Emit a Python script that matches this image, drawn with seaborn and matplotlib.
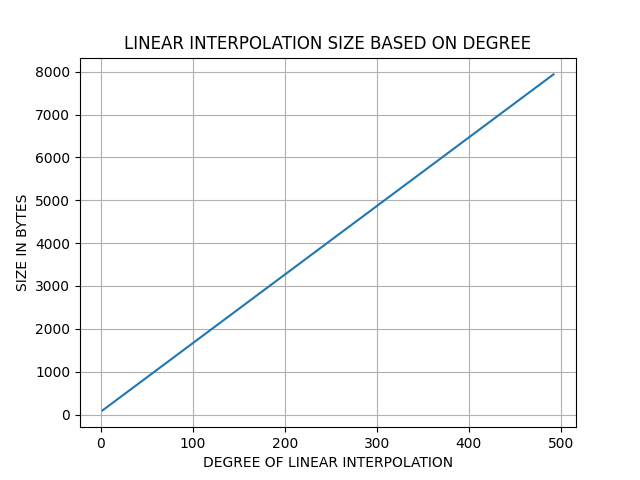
import matplotlib
matplotlib.use("Agg")
import matplotlib.pyplot as plt
import seaborn as sns

degree = [2, 100, 200, 300, 400, 492]
size_bytes = [96, 1664, 3264, 4864, 6464, 7936]

fig, ax = plt.subplots(figsize=(6.4, 4.8), dpi=100)
sns.lineplot(x=degree, y=size_bytes, ax=ax, color="#1f77b4")
ax.grid(True)
ax.set_title("LINEAR INTERPOLATION SIZE BASED ON DEGREE")
ax.set_xlabel("DEGREE OF LINEAR INTERPOLATION")
ax.set_ylabel("SIZE IN BYTES")
fig.savefig("out.png")
